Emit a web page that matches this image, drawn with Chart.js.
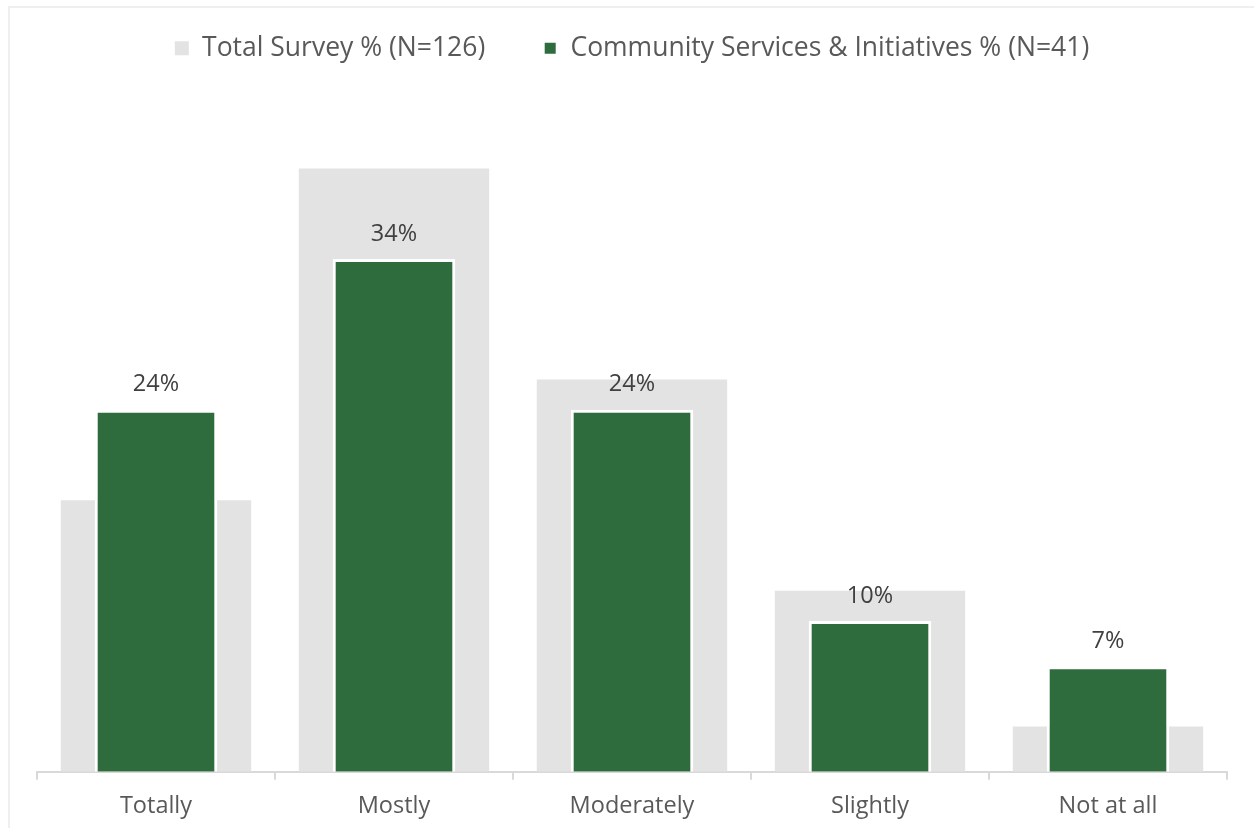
<!DOCTYPE html>
<html>
<head>
<meta charset="utf-8">
<script src="https://cdn.jsdelivr.net/npm/chart.js@4/dist/chart.umd.min.js"></script>
<style>
  html, body { margin: 0; padding: 0; background: #ffffff; }
  body { width: 1254px; height: 828px; position: relative; overflow: hidden; }
  .frame {
    position: absolute; left: 8px; top: 6px; width: 1260px; height: 840px;
    border: 2px solid #efefef; box-sizing: border-box;
  }
  #chart-wrap { position: absolute; left: 0; top: 0; width: 1254px; height: 828px; }
</style>
</head>
<body>
<div class="frame"></div>
<div id="chart-wrap"><canvas id="chart"></canvas></div>
<script>
  // Response categories
  const categories = ['Totally', 'Mostly', 'Moderately', 'Slightly', 'Not at all'];

  // Percentages per group
  const totalSurvey = [18, 40, 26, 12, 3];
  const communityServices = [24, 34, 24, 10, 7];

  const seriesLabels = ['Total Survey % (N=126)', 'Community Services & Initiatives % (N=41)'];

  const colors = {
    gray: '#e3e3e3',
    green: '#2e6b3d',
    text: '#595959',
    label: '#404040',
    axis: '#d9d9d9'
  };

  const fontFamily = '"Open Sans", Lato, sans-serif';

  // Fixed legend block height so the plot starts at the same place
  const legendHeight = {
    id: 'legendHeight',
    beforeInit(chart) {
      const fit = chart.legend.fit;
      chart.legend.fit = function () {
        fit.call(this);
        this.height = 116;
      };
    }
  };

  // Value labels above the green bars
  const valueLabels = {
    id: 'valueLabels',
    afterDatasetsDraw(chart) {
      const ctx = chart.ctx;
      const meta = chart.getDatasetMeta(1);
      ctx.save();
      ctx.font = '23.5px ' + fontFamily;
      ctx.fillStyle = colors.label;
      ctx.textAlign = 'center';
      ctx.textBaseline = 'middle';
      meta.data.forEach((bar, i) => {
        ctx.fillText(communityServices[i] + '%', bar.x, bar.y - 25);
      });
      ctx.restore();
    }
  };

  new Chart(document.getElementById('chart').getContext('2d'), {
    type: 'bar',
    data: {
      labels: categories,
      datasets: [
        {
          label: seriesLabels[0],
          data: totalSurvey,
          backgroundColor: colors.gray,
          borderWidth: 0,
          grouped: false,
          categoryPercentage: 1,
          barPercentage: 0.8,
          order: 2
        },
        {
          label: seriesLabels[1],
          data: communityServices,
          backgroundColor: colors.green,
          borderColor: '#ffffff',
          borderWidth: 3,
          borderSkipped: 'bottom',
          grouped: false,
          categoryPercentage: 1,
          barPercentage: 0.515,
          order: 1
        }
      ]
    },
    options: {
      responsive: true,
      maintainAspectRatio: false,
      animation: false,
      layout: {
        padding: { left: 37, right: 27, top: -23, bottom: -4 }
      },
      scales: {
        x: {
          grid: {
            display: true,
            drawOnChartArea: false,
            drawTicks: true,
            tickLength: 8,
            color: colors.axis,
            lineWidth: 2
          },
          border: { display: true, color: colors.axis, width: 2 },
          ticks: {
            color: colors.text,
            font: { family: fontFamily, size: 23.5 },
            padding: 12
          }
        },
        y: {
          display: false,
          min: 0,
          max: 45
        }
      },
      plugins: {
        legend: {
          position: 'top',
          labels: {
            color: colors.text,
            font: { family: fontFamily, size: 26.5 },
            usePointStyle: true,
            pointStyle: 'rect',
            boxWidth: 14,
            boxHeight: 14,
            padding: 58,
            sort: (a, b) => a.datasetIndex - b.datasetIndex
          }
        },
        tooltip: { enabled: false }
      }
    },
    plugins: [legendHeight, valueLabels]
  });
</script>
</body>
</html>
